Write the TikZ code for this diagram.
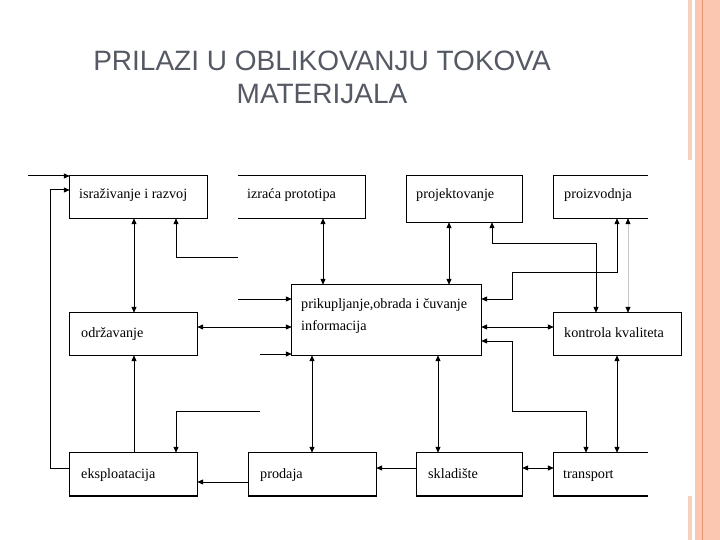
\documentclass[tikz,border=0pt]{standalone}
\usepackage{fontspec}
\setmainfont{Liberation Serif}
\newfontfamily\titlefont{Liberation Sans}
\usetikzlibrary{arrows.meta}
\definecolor{titlegray}{RGB}{84,89,99}
\definecolor{salmon}{RGB}{251,199,177}
\definecolor{salmondark}{RGB}{228,148,112}
\definecolor{salmonlight}{RGB}{248,208,192}
\begin{document}
\begin{tikzpicture}[x=1pt,y=-1pt,
  box/.style n args={2}{rectangle, draw=none, inner sep=0pt, minimum width=#1, minimum height=#2},
  ln/.style={line width=1pt, draw=black},
  arr/.style={ln, -{Triangle[length=6pt,width=5pt]}},
  darr/.style={ln, {Triangle[length=6pt,width=5pt]}-{Triangle[length=6pt,width=5pt]}},
  faint/.style={line width=0.8pt, draw=black!22, {Triangle[length=6pt,width=5pt,color=black]}-{Triangle[length=6pt,width=5pt,color=black]}},
  lbl/.style={anchor=base west, inner sep=0pt, font=\fontsize{14.2}{17}\selectfont},
  thickbot/.style={line width=2pt}]
\useasboundingbox (0,0) rectangle (720,540);
% right decoration
\fill[salmon] (695,0) rectangle (720,540);
\fill[salmonlight] (688,0) rectangle (692,160);
\fill[salmonlight] (688,496) rectangle (692,540);
\draw[salmondark, line width=1.2pt] (702.5,0) -- (702.5,540);
% title
\node[font=\titlefont\fontsize{28}{33}\selectfont, text=titlegray, align=center] (title) at (322,77) {PRILAZI U OBLIKOVANJU TOKOVA\\MATERIJALA};
% boxes
\node[box={137}{42}] (ir) at (138.5,197) {};
\node[box={127}{42}] (ip) at (301.5,197) {};
\node[box={115}{46}] (pr) at (464.5,199) {};
\node[box={94}{42}]  (pz) at (601,197) {};
\node[box={127}{42}] (od) at (133.5,334) {};
\node[box={189}{70}] (pk) at (386.5,320) {};
\node[box={127}{42}] (kk) at (617.5,334) {};
\node[box={127}{43}] (ek) at (133.5,474.5) {};
\node[box={127}{43}] (pd) at (312.5,474.5) {};
\node[box={105}{43}] (sk) at (469.5,474.5) {};
\node[box={94}{43}]  (tr) at (601,474.5) {};
\draw[ln] (ir.north west) rectangle (ir.south east);
\draw[ln] (ip.north west) -- (ip.north east) -- (ip.south east) -- (ip.south west);
\draw[ln] (pr.north west) rectangle (pr.south east);
\draw[ln] (pz.north east) -- (pz.north west) -- (pz.south west) -- (pz.south east);
\draw[ln] (od.north west) rectangle (od.south east);
\draw[ln] (pk.north west) rectangle (pk.south east);
\draw[ln] (kk.north west) rectangle (kk.south east);
\draw[ln] (ek.north west) rectangle (ek.south east);
\draw[ln] (pd.north west) rectangle (pd.south east);
\draw[ln] (sk.north west) rectangle (sk.south east);
\draw[ln] (tr.north east) -- (tr.north west) -- (tr.south west) -- (tr.south east);
\draw[thickbot] (ek.south west) -- (ek.south east);
\draw[thickbot] (pd.south west) -- (pd.south east);
\draw[thickbot] (sk.south west) -- (sk.south east);
\draw[thickbot] (tr.south west) -- (tr.south east);
% labels
\node[lbl] (irl) at (79,199) {israživanje i razvoj};
\node[lbl] (ipl) at (247,199) {izraća prototipa};
\node[lbl] (prl) at (416,199) {projektovanje};
\node[lbl] (pzl) at (564,199) {proizvodnja};
\node[lbl] (odl) at (81,337) {održavanje};
\node[lbl] (pkl1) at (301,308) {prikupljanje,obrada i čuvanje};
\node[lbl] (pkl2) at (301,330) {informacija};
\node[lbl] (kkl) at (564,337) {kontrola kvaliteta};
\node[lbl] (ekl) at (81,478) {eksploatacija};
\node[lbl] (pdl) at (260,478) {prodaja};
\node[lbl] (skl) at (428,478) {skladište};
\node[lbl] (trl) at (563,478) {transport};
% helper coordinates
\coordinate (x134) at (134,0);
\coordinate (x176) at (176,0);
\coordinate (x312) at (312,0);
\coordinate (x323) at (323,0);
\coordinate (x438) at (438,0);
\coordinate (x449) at (449,0);
\coordinate (x492) at (492,0);
\coordinate (x586) at (586,0);
\coordinate (x596) at (596,0);
\coordinate (x617) at (617,0);
\coordinate (x628) at (628,0);
\coordinate (y176) at (0,176);
\coordinate (y190) at (0,190);
\coordinate (y299) at (0,299);
\coordinate (y327) at (0,327);
\coordinate (y341) at (0,341);
\coordinate (y354) at (0,354);
\coordinate (y468) at (0,468);
\coordinate (y482) at (0,482);
\coordinate (f1) at (28,176);
\coordinate (f2) at (238,257);
\coordinate (f3) at (238,299);
\coordinate (f4) at (260,354);
\coordinate (f5) at (260,411);
\coordinate (b1) at (50,468);
\coordinate (b2) at (50,190);
% connectors
\draw[arr] (f1) -- (ir.west |- y176);
\draw[arr] (ek.west |- y468) -- (b1) -- (b2) -- (ir.west |- y190);
\draw[darr] (ir.south -| x134) -- (od.north -| x134);
\draw[arr] (f2) -| (ir.south -| x176);
\draw[darr] (ip.south -| x323) -- (pk.north -| x323);
\draw[darr] (pr.south -| x449) -- (pk.north -| x449);
\draw[darr] (pr.south -| x492) -- (492,243) -- (596,243) -- (kk.north -| x596);
\draw[darr] (pk.east |- y299) -- (512,299) -- (512,272) -- (617,272) -- (pz.south -| x617);
\draw[faint] (pz.south -| x628) -- (kk.north -| x628);
\draw[arr] (f3) -- (pk.west |- y299);
\draw[darr] (od.east |- y327) -- (pk.west |- y327);
\draw[arr] (f4) -- (pk.west |- y354);
\draw[darr] (pk.east |- y327) -- (kk.west |- y327);
\draw[darr] (pk.east |- y341) -- (512,341) -- (512,411) -- (586,411) -- (tr.north -| x586);
\draw[darr] (kk.south -| x617) -- (tr.north -| x617);
\draw[arr] (ek.north -| x134) -- (od.south -| x134);
\draw[arr] (f5) -| (ek.north -| x176);
\draw[arr] (pd.west |- y482) -- (ek.east |- y482);
\draw[darr] (pk.south -| x312) -- (pd.north -| x312);
\draw[darr] (pk.south -| x438) -- (sk.north -| x438);
\draw[arr] (sk.west |- y468) -- (pd.east |- y468);
\draw[darr] (sk.east |- y468) -- (tr.west |- y468);
\end{tikzpicture}
\end{document}
